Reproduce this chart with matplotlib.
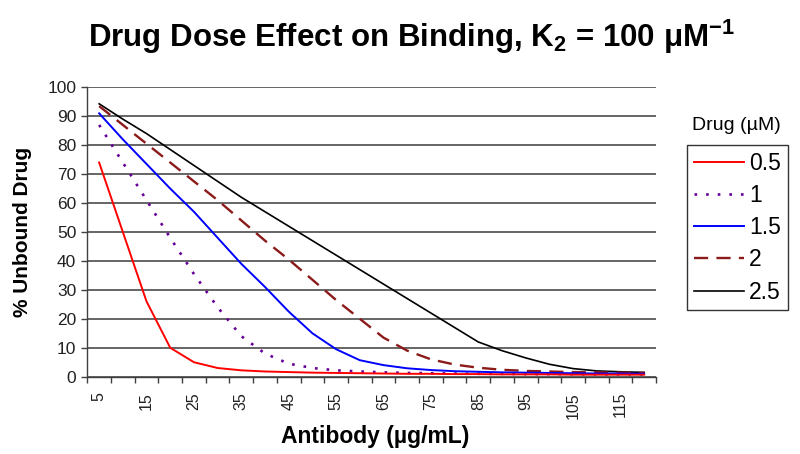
import matplotlib
matplotlib.use("Agg")
import matplotlib.pyplot as plt
from matplotlib.ticker import FixedLocator, NullFormatter

plt.rcParams['font.family'] = ['Liberation Sans', 'DejaVu Sans']
plt.rcParams['mathtext.default'] = 'regular'

# --- data ---
antibody = [5, 10, 15, 20, 25, 30, 35, 40, 45, 50, 55, 60,
            65, 70, 75, 80, 85, 90, 95, 100, 105, 110, 115, 120]

drug_05 = [74, 50, 26, 10, 5, 3, 2.2, 1.8, 1.6, 1.4, 1.3, 1.2,
           1.1, 1.0, 1.0, 0.9, 0.9, 0.8, 0.8, 0.8, 0.7, 0.7, 0.7, 0.7]
drug_1 = [87, 74, 61, 48, 35.5, 24, 14, 8, 4.5, 3, 2.2, 1.8,
          1.5, 1.3, 1.2, 1.1, 1.0, 1.0, 0.9, 0.9, 0.9, 0.8, 0.8, 0.8]
drug_15 = [91, 82, 73.5, 65, 57, 48, 39, 31, 22.5, 15, 9.5, 5.7,
           4, 2.9, 2.3, 1.9, 1.7, 1.5, 1.4, 1.3, 1.2, 1.1, 1.1, 1.0]
drug_2 = [93.5, 87, 80.5, 74, 67.5, 61, 54, 47, 40.5, 33.5, 26.5, 20,
          13.5, 9, 6, 4.2, 3.1, 2.4, 2.0, 1.8, 1.6, 1.5, 1.4, 1.3]
drug_25 = [94.3, 89, 84, 78.5, 73, 67.5, 62, 57, 52, 47, 42, 37,
           32, 27, 22, 17, 12, 9, 6.5, 4.3, 2.8, 2.0, 1.7, 1.5]

labels = ['0.5', '1', '1.5', '2', '2.5']
xtick_labels = [5, 15, 25, 35, 45, 55, 65, 75, 85, 95, 105, 115]

W, H = 800, 454
fig = plt.figure(figsize=(W / 100, H / 100), dpi=100)
fig.patch.set_facecolor('white')

left, right, top, bottom = 87.3, 656, 87.3, 376.7
ax = fig.add_axes([left / W, 1 - bottom / H, (right - left) / W, (bottom - top) / H])

ax.plot(antibody, drug_05, color='#ff0000', lw=1.4, label=labels[0], zorder=6)
ax.plot(antibody, drug_1, color='#660099', lw=1.9, dashes=(1.0, 3.4), label=labels[1], zorder=4)
ax.plot(antibody, drug_15, color='#0000ff', lw=1.4, label=labels[2], zorder=5)
ax.plot(antibody, drug_2, color='#8b1a1a', lw=1.7, dashes=(6, 3.5), label=labels[3], zorder=3)
ax.plot(antibody, drug_25, color='#000000', lw=1.2, label=labels[4], zorder=2)

ax.set_xlim(2.5, 122.5)
ax.set_ylim(0, 100)

# category axis: labels on every other category, tick marks between categories
ax.xaxis.set_major_locator(FixedLocator(xtick_labels))
ax.set_xticklabels([str(v) for v in xtick_labels], rotation=90, fontsize=11.5, color='#222222')
ax.xaxis.set_minor_locator(FixedLocator([a - 2.5 for a in antibody] + [122.5]))
ax.xaxis.set_minor_formatter(NullFormatter())
ax.tick_params(axis='x', which='major', length=0, pad=11)
ax.tick_params(axis='x', which='minor', length=4.5, width=1, color='#404040', direction='out')

ax.set_yticks(range(0, 101, 10))
ax.tick_params(axis='y', length=4, width=1, color='#404040', labelsize=12.5, labelcolor='#222222', pad=4)

ax.grid(True, axis='y', color='#3c3c3c', lw=1.1)
ax.set_axisbelow(True)
for s in ['top', 'right']:
    ax.spines[s].set_visible(False)
for s in ['left', 'bottom']:
    ax.spines[s].set_color('#404040')
    ax.spines[s].set_linewidth(1.0)

fig.text(411 / W, 1 - 37 / H, r'Drug Dose Effect on Binding, K$_2$ = 100 $\mu$M$^{-1}$',
         ha='center', va='center', fontsize=22.5, fontweight='bold')
fig.text(375 / W, 1 - 437 / H, 'Antibody (\u00b5g/mL)', ha='center', va='center',
         fontsize=16.5, fontweight='bold')
fig.text(23 / W, 1 - 232 / H, '% Unbound Drug', ha='center', va='center',
         fontsize=15, fontweight='bold', rotation=90)
fig.text(736 / W, 1 - 125 / H, 'Drug (\u00b5M)', ha='center', va='center', fontsize=14)

leg = ax.legend(loc='upper left', bbox_to_anchor=(687 / W, 1 - 145 / H),
                bbox_transform=fig.transFigure, frameon=True, fancybox=False,
                edgecolor='black', fontsize=16.5, handlelength=2.2, handletextpad=0.2,
                labelspacing=0.4, borderpad=0.3, borderaxespad=0)
leg.get_frame().set_linewidth(1.0)

fig.savefig('out.png', dpi=100)
